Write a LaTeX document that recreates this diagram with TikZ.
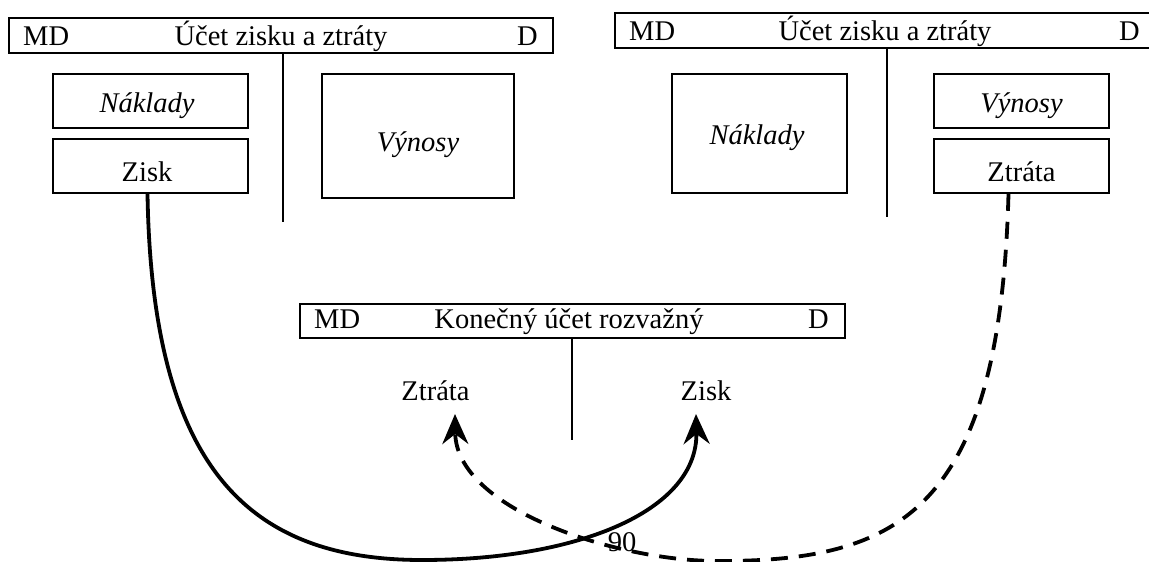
\documentclass[tikz,border=0pt]{standalone}
\usepackage{fontspec}
\setmainfont{Liberation Serif}
\usetikzlibrary{arrows.meta,calc}
\tikzset{
  hdr/.style={draw, line width=2.5pt},
  inbox/.style={draw, line width=1.6pt, inner sep=0pt},
  vl/.style={line width=1.6pt},
  txt/.style={inner sep=0pt, anchor=base, font=\fontsize{28.5}{32}\selectfont},
  itxt/.style={txt, font=\fontsize{28.5}{32}\selectfont\itshape},
  flow/.style={line width=3.8pt},
  dflow/.style={line width=3.8pt, dash pattern=on 17pt off 11pt},
  tip/.style={-{Stealth[length=30pt,width=26pt,inset=10pt]}}
}
\begin{document}
\begin{tikzpicture}[x=1pt,y=-1pt]
\useasboundingbox (0,0) rectangle (1149,562);
% left account
\draw[hdr] (9,18) rectangle (553,53);
\node[txt, anchor=base west] (lmd) at (23,45) {MD};
\node[txt] (ltitle) at (281,45) {Účet zisku a ztráty};
\node[txt, anchor=base east] (ld) at (538,45) {D};
\draw[vl] (283,53) -- (283,222);
\node[inbox, minimum width=195pt, minimum height=54pt] (lnakl) at (150.5,101) {};
\node[itxt] (lnaklt) at (147,112) {Náklady};
\node[inbox, minimum width=195pt, minimum height=54pt] (lzisk) at (150.5,166) {};
\node[txt] (lziskt) at (147,181) {Zisk};
\node[inbox, minimum width=192pt, minimum height=124pt] (lvyn) at (418,136) {};
\node[itxt] (lvynt) at (418,151) {Výnosy};
% right account
\draw[hdr] (615,13) rectangle (1155,48);
\node[txt, anchor=base west] (rmd) at (629,40) {MD};
\node[txt] (rtitle) at (885,40) {Účet zisku a ztráty};
\node[txt, anchor=base east] (rd) at (1140,40) {D};
\draw[vl] (887,48) -- (887,217);
\node[inbox, minimum width=175pt, minimum height=119pt] (rnakl) at (759.5,133.5) {};
\node[itxt] (rnaklt) at (757,144) {Náklady};
\node[inbox, minimum width=175pt, minimum height=54pt] (rvyn) at (1021.5,101) {};
\node[itxt] (rvynt) at (1021.5,112) {Výnosy};
\node[inbox, minimum width=175pt, minimum height=54pt] (rztr) at (1021.5,166) {};
\node[txt] (rztrt) at (1021.5,181) {Ztráta};
% middle account
\draw[hdr] (300,304) rectangle (845,338);
\node[txt, anchor=base west] (mmd) at (314,328) {MD};
\node[txt] (mtitle) at (569,328) {Konečný účet rozvažný};
\node[txt, anchor=base east] (md) at (829,328) {D};
\draw[vl] (572,338) -- (572,440);
\node[txt] (mztr) at (435.5,400) {Ztráta};
\node[txt] (mzisk) at (706,400) {Zisk};
\coordinate (zisktip) at (696,414);
\coordinate (ztrtip) at (455,414);
\coordinate (sbot) at (422,560);
\coordinate (dbot) at (720,561);
% flows
\draw[flow, tip] ([xshift=-3pt]lzisk.south) .. controls (152,470) and (250,560) .. (sbot)
   .. controls (580,560) and (698,510) .. (zisktip);
\draw[dflow, tip] ([xshift=-13pt]rztr.south) .. controls (1000,510) and (900,561) .. (dbot)
   .. controls (620,562) and (456,510) .. (ztrtip);
\node[txt] (ninety) at (622,551) {90};
\end{tikzpicture}
\end{document}
